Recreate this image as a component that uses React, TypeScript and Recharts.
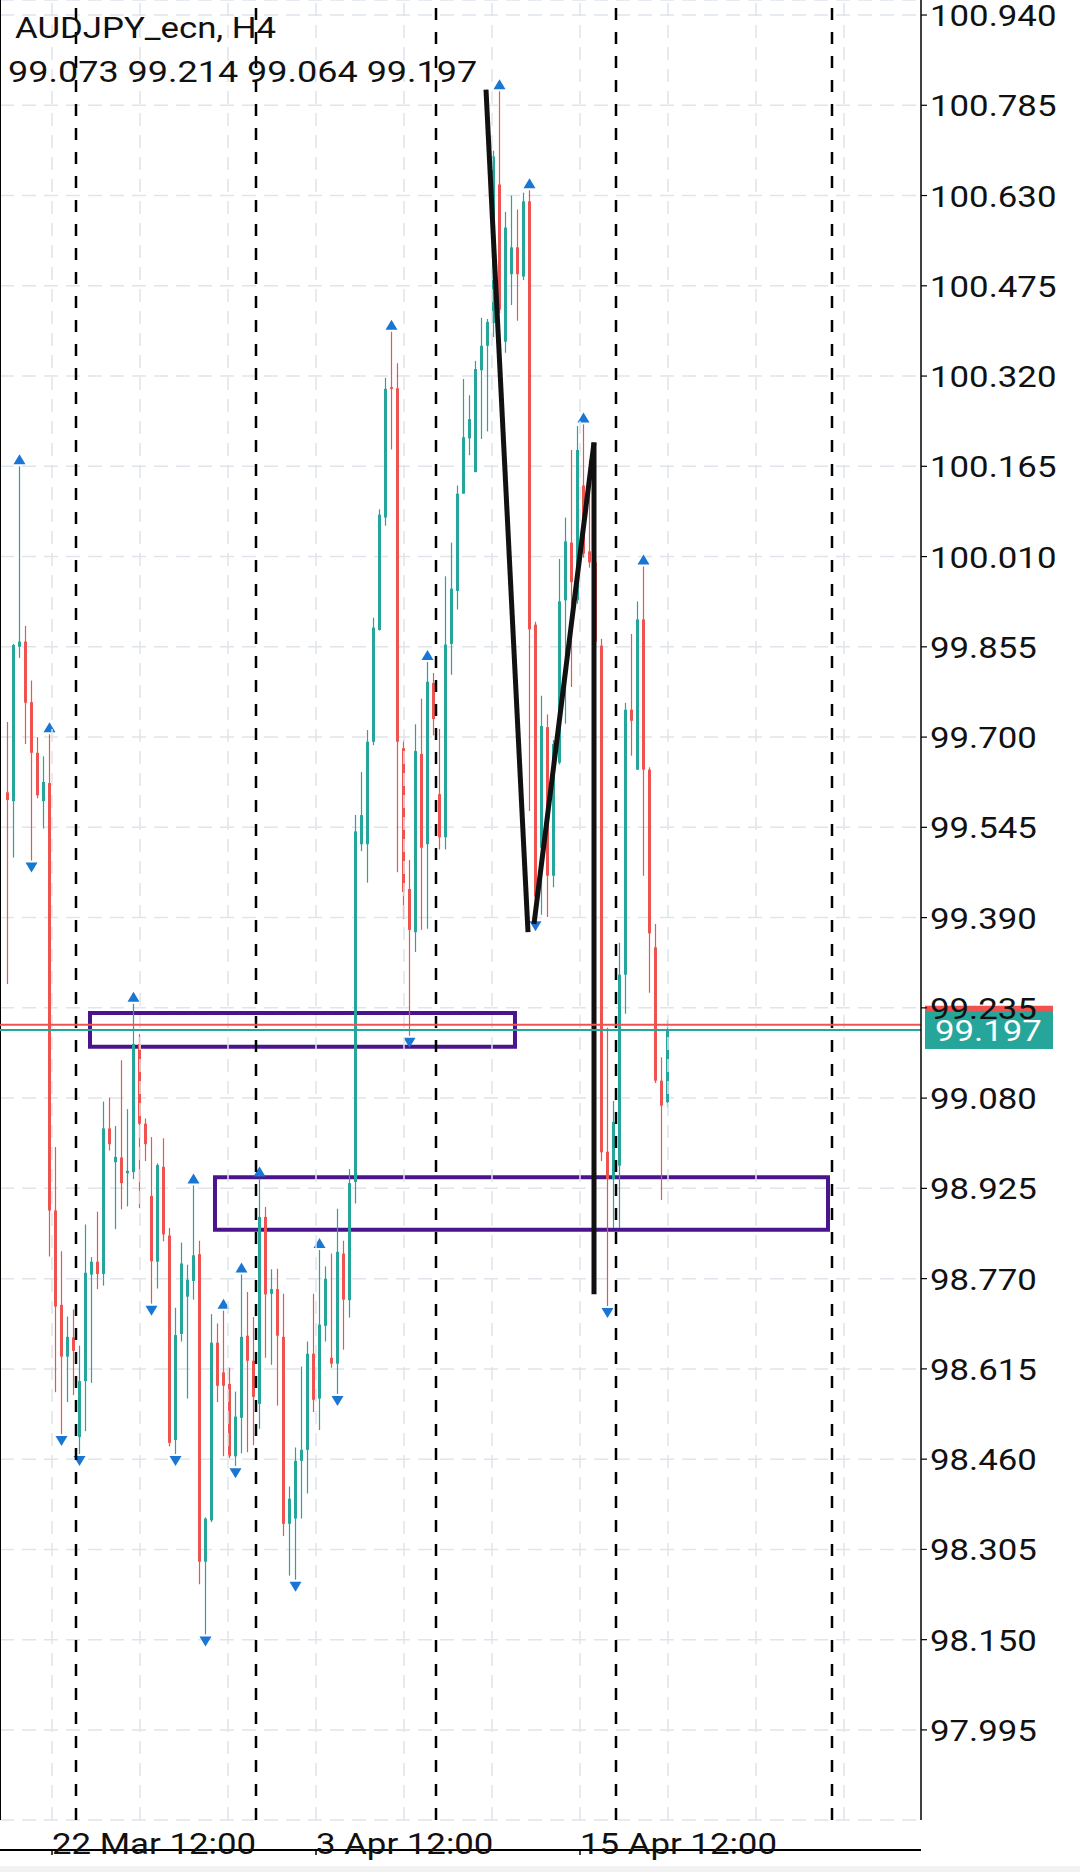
import React from 'react';
import {
  ComposedChart,
  Bar,
  XAxis,
  YAxis,
  CartesianGrid,
  ReferenceLine,
  ReferenceArea,
} from 'recharts';

// H4 candles (bar 0 = leftmost)
const opens = [
  99.605, 99.59, 99.855, 99.864, 99.76, 99.673, 99.59, 99.621, 98.887, 98.725,
  98.636, 98.669, 98.498, 98.594, 98.777, 98.799, 98.778, 99.028, 98.97, 98.978,
  98.951, 98.953, 99.173, 99.036, 98.912, 98.799, 98.962, 98.844, 98.493, 98.675,
  98.739, 98.766, 98.812, 98.284, 98.355, 98.66, 98.609, 98.589, 98.465, 98.531,
  98.672, 98.629, 98.555, 98.876, 98.744, 98.752, 98.67, 98.349, 98.358, 98.457,
  98.476, 98.641, 98.564, 98.689, 98.634, 98.624, 98.813, 98.733, 98.936, 99.516,
  99.516, 99.692, 99.884, 100.077, 100.301, 100.299, 99.681, 99.439, 99.365, 99.671,
  99.516, 99.793, 99.602, 99.528, 99.86, 99.951, 100.118, 100.213, 100.155, 100.33,
  100.372, 100.411, 100.649, 100.379, 100.495, 100.541, 100.491, 100.62, 99.893, 99.51,
  99.717, 99.462, 99.656, 99.935, 100.034, 99.935, 100.132, 100.019, 100.0, 99.857,
  98.988, 98.941, 98.964, 99.292, 99.747, 99.644, 99.902, 99.644, 99.339, 99.11,
  99.073,
];
const highs = [
  99.726, 99.86, 100.165, 99.891, 99.797, 99.7, 99.667, 99.705, 98.996, 98.817,
  98.705, 98.717, 98.655, 98.863, 98.807, 98.885, 99.074, 99.081, 99.032, 99.145,
  99.061, 99.242, 99.19, 99.045, 99.013, 98.968, 99.011, 98.857, 98.72, 98.832,
  98.794, 98.93, 98.835, 98.36, 98.709, 98.693, 98.715, 98.617, 98.576, 98.777,
  98.747, 98.704, 98.942, 98.893, 98.786, 98.787, 98.744, 98.413, 98.48, 98.619,
  98.662, 98.744, 98.819, 98.791, 98.813, 98.89, 98.835, 98.958, 99.566, 99.64,
  99.712, 99.905, 100.091, 100.317, 100.396, 100.342, 99.695, 99.489, 99.722, 99.766,
  99.829, 99.81, 99.714, 99.976, 100.034, 100.132, 100.315, 100.287, 100.346, 100.42,
  100.418, 100.707, 100.809, 100.602, 100.63, 100.606, 100.635, 100.639, 99.898, 99.771,
  99.739, 99.695, 100.006, 100.077, 100.193, 100.234, 100.237, 100.175, 100.008, 99.869,
  99.201, 99.075, 99.347, 99.759, 99.877, 99.933, 99.993, 99.648, 99.379, 99.15,
  99.214,
];
const lows = [
  99.276, 99.493, 99.836, 99.688, 99.488, 99.595, 99.543, 98.808, 98.575, 98.503,
  98.558, 98.57, 98.469, 98.508, 98.591, 98.752, 98.758, 98.99, 98.855, 98.889,
  98.894, 98.941, 98.891, 98.972, 98.727, 98.753, 98.834, 98.482, 98.469, 98.662,
  98.564, 98.734, 98.245, 98.159, 98.352, 98.558, 98.465, 98.462, 98.448, 98.47,
  98.472, 98.484, 98.512, 98.634, 98.622, 98.552, 98.328, 98.26, 98.253, 98.358,
  98.401, 98.541, 98.51, 98.662, 98.617, 98.572, 98.648, 98.703, 98.899, 99.504,
  99.45, 99.686, 99.883, 100.063, 100.194, 99.468, 99.388, 99.187, 99.331, 99.369,
  99.371, 99.703, 99.507, 99.507, 99.807, 99.919, 100.118, 100.184, 100.155, 100.212,
  100.225, 100.387, 100.428, 100.36, 100.442, 100.415, 100.485, 99.573, 99.387, 99.395,
  99.391, 99.442, 99.653, 99.723, 99.786, 99.929, 100.008, 99.991, 99.855, 98.972,
  98.723, 98.857, 98.857, 99.225, 99.668, 99.644, 99.462, 99.261, 99.106, 98.905,
  99.064,
];
const closes = [
  99.592, 99.858, 99.864, 99.759, 99.673, 99.6, 99.623, 98.887, 98.722, 98.636,
  98.67, 98.646, 98.594, 98.78, 98.799, 98.778, 99.028, 99.001, 98.979, 98.934,
  98.955, 99.173, 99.036, 99.001, 98.8, 98.965, 98.846, 98.488, 98.673, 98.796,
  98.768, 98.81, 98.284, 98.358, 98.66, 98.586, 98.586, 98.465, 98.533, 98.67,
  98.629, 98.567, 98.876, 98.743, 98.752, 98.672, 98.349, 98.392, 98.457, 98.476,
  98.641, 98.562, 98.691, 98.77, 98.624, 98.816, 98.734, 98.934, 99.538, 99.566,
  99.692, 99.888, 100.082, 100.298, 100.298, 99.692, 99.434, 99.369, 99.676, 99.51,
  99.795, 99.731, 99.528, 99.859, 99.955, 100.118, 100.215, 100.246, 100.332, 100.372,
  100.413, 100.697, 100.434, 100.575, 100.541, 100.495, 100.62, 99.885, 99.426, 99.719,
  99.462, 99.688, 99.933, 100.036, 99.966, 100.193, 100.015, 100.0, 99.864, 98.987,
  98.941, 99.039, 99.292, 99.747, 99.728, 99.902, 99.644, 99.363, 99.11, 99.067,
  99.197,
];

// Bill Williams fractals (bar indices)
const fractalUp = [2, 7, 21, 31, 36, 39, 42, 52, 64, 70, 82, 87, 96, 106];
const fractalDown = [4, 9, 12, 24, 28, 33, 38, 48, 55, 67, 88, 100];

const priceTicks = [
  100.94, 100.785, 100.63, 100.475, 100.32, 100.165, 100.01, 99.855, 99.7, 99.545,
  99.39, 99.235, 99.08, 98.925, 98.77, 98.615, 98.46, 98.305, 98.15, 97.995,
];
const timeTicks = [7.667, 51.667, 95.667];
const timeLabels = ['22 Mar 12:00', '3 Apr 12:00', '15 Apr 12:00'];
const gridBars = [7.667, 22.333, 37, 51.667, 66.333, 81, 95.667, 110.333, 125, 139.667];
const weekSeparators = [11.667, 41.667, 71.667, 101.667, 137.667];

const bid = 99.197;
const ask = 99.206;

const zones = [
  { x1: 14, x2: 84.83, y1: 99.168, y2: 99.226 },
  { x1: 34.83, x2: 137, y1: 98.854, y2: 98.944 },
];
const trendLines = [
  [{ x: 80, y: 100.812 }, { x: 87, y: 99.365 }],
  [{ x: 88, y: 99.379 }, { x: 98, y: 100.206 }],
  [{ x: 98, y: 100.206 }, { x: 98, y: 98.743 }],
];

const BULL = '#26a69a';
const BEAR = '#ef5350';
const FRACTAL = '#1976d2';
const ZONE = '#4a148c';
const GRID = '#dfe5ea';
const FONT = 'Roboto, sans-serif';
const STRETCH = 1.16;

const rows = opens.map((o, i) => ({
  i,
  o,
  h: highs[i],
  l: lows[i],
  c: closes[i],
  range: [lows[i], highs[i]],
  up: fractalUp.includes(i),
  down: fractalDown.includes(i),
}));

function Candle(props: any) {
  const { x, y, width, height, payload } = props;
  if (!payload) return null;
  const top = Math.min(y, y + height);
  const hgt = Math.abs(height);
  const { o, h, l, c } = payload;
  const span = h - l || 1;
  const py = (v: number) => top + ((h - v) / span) * hgt;
  const color = c >= o ? BULL : BEAR;
  const cx = Math.round(x + width / 2);
  const b1 = py(Math.max(o, c));
  const b2 = py(Math.min(o, c));
  return (
    <g>
      <line x1={cx + 0.5} x2={cx + 0.5} y1={top} y2={top + hgt} stroke={color} strokeWidth={1.2} />
      <rect x={cx - 1} y={b1} width={3} height={Math.max(1.5, b2 - b1)} fill={color} />
      {payload.up && (
        <path d={`M${cx - 5.5},${top - 2} L${cx + 6.5},${top - 2} L${cx + 0.5},${top - 12} Z`} fill={FRACTAL} />
      )}
      {payload.down && (
        <path
          d={`M${cx - 5.5},${top + hgt + 2} L${cx + 6.5},${top + hgt + 2} L${cx + 0.5},${top + hgt + 12} Z`}
          fill={FRACTAL}
        />
      )}
    </g>
  );
}

function PriceTick({ x, y, payload }: any) {
  return (
    <text
      transform={`translate(${x},${y + 11}) scale(${STRETCH},1)`}
      fontFamily={FONT}
      fontSize={30}
      fill="#111"
    >
      {Number(payload.value).toFixed(3)}
    </text>
  );
}

function TimeTick({ x, payload }: any) {
  const idx = timeTicks.indexOf(payload.value);
  // baseline sits 34px under the x axis line
  return (
    <text
      transform={`translate(${x},${1854}) scale(${STRETCH},1)`}
      fontFamily={FONT}
      fontSize={30}
      fill="#111"
    >
      {timeLabels[idx]}
    </text>
  );
}

function PriceTag({ viewBox, text, color }: any) {
  if (!viewBox) return null;
  const left = viewBox.x + viewBox.width + 4;
  const cy = viewBox.y;
  return (
    <g>
      <rect x={left} y={cy - 19} width={128} height={38} fill={color} />
      <text
        transform={`translate(${left + 10},${cy + 11}) scale(${STRETCH},1)`}
        fontFamily={FONT}
        fontSize={30}
        fill="#fff"
      >
        {text}
      </text>
    </g>
  );
}

export default function App() {
  return (
    <div
      style={{
        position: 'absolute',
        left: 0,
        top: 0,
        width: 1080,
        height: 1872,
        background: '#fff',
        overflow: 'hidden',
      }}
    >
      <ComposedChart
        width={1080}
        height={1872}
        data={rows}
        margin={{ top: 0, right: 0, bottom: 0, left: 0 }}
      >
        <CartesianGrid
          xAxisId="n"
          vertical={false}
          stroke={GRID}
          strokeWidth={1.5}
          strokeDasharray="14 8"
        />
        <XAxis xAxisId="c" dataKey="i" type="category" hide padding={{ left: 3, right: 252 }} />
        <XAxis
          xAxisId="n"
          dataKey="i"
          type="number"
          domain={[-1, 152.5]}
          allowDataOverflow
          ticks={timeTicks}
          interval={0}
          height={52}
          tickSize={5}
          tickMargin={2}
          axisLine={{ stroke: '#000', strokeWidth: 2 }}
          tickLine={{ stroke: '#000', strokeWidth: 1.5 }}
          tick={<TimeTick />}
        />
        <YAxis
          orientation="right"
          width={159}
          domain={[97.8403, 100.9658]}
          allowDataOverflow
          ticks={priceTicks}
          interval={0}
          tickSize={6}
          tickMargin={3}
          axisLine={{ stroke: '#000', strokeWidth: 1.5 }}
          tickLine={{ stroke: '#000', strokeWidth: 1.2 }}
          tick={<PriceTick />}
        />

        {gridBars.map((v) => (
          <ReferenceLine
            key={`g${v}`}
            xAxisId="n"
            x={v}
            stroke={GRID}
            strokeWidth={1.5}
            strokeDasharray="13 9"
          />
        ))}
        <ReferenceLine xAxisId="n" x={-1} stroke="#000" strokeWidth={2} />

        <Bar
          xAxisId="c"
          dataKey="range"
          barSize={3}
          shape={(p: any) => <Candle {...p} />}
          isAnimationActive={false}
        />

        {weekSeparators.map((v) => (
          <ReferenceLine
            key={`s${v}`}
            xAxisId="n"
            x={v}
            stroke="#000"
            strokeWidth={2.5}
            strokeDasharray="12 12"
          />
        ))}

        {zones.map((z, k) => (
          <ReferenceArea
            key={`z${k}`}
            xAxisId="n"
            x1={z.x1}
            x2={z.x2}
            y1={z.y1}
            y2={z.y2}
            fill="none"
            fillOpacity={0}
            stroke={ZONE}
            strokeWidth={4}
          />
        ))}

        {trendLines.map((seg, k) => (
          <ReferenceLine
            key={`t${k}`}
            xAxisId="n"
            segment={seg}
            stroke="#111"
            strokeWidth={5}
          />
        ))}

        <ReferenceLine
          xAxisId="n"
          y={ask}
          stroke={BEAR}
          strokeWidth={2}
          label={<PriceTag text={ask.toFixed(3)} color={BEAR} />}
        />
        <ReferenceLine
          xAxisId="n"
          y={bid}
          stroke={BULL}
          strokeWidth={2}
          label={<PriceTag text={bid.toFixed(3)} color={BULL} />}
        />
      </ComposedChart>

      <svg
        width={560}
        height={100}
        style={{ position: 'absolute', left: 0, top: 0, pointerEvents: 'none' }}
      >
        <text transform={`translate(15,38) scale(${STRETCH},1)`} fontFamily={FONT} fontSize={30} fill="#111">
          AUDJPY_ecn, H4
        </text>
        <text transform={`translate(8,82) scale(1.2,1)`} fontFamily={FONT} fontSize={30} fill="#111">
          {`${opens[110].toFixed(3)} ${highs[110].toFixed(3)} ${lows[110].toFixed(3)} ${closes[110].toFixed(3)}`}
        </text>
      </svg>
      <div
        style={{ position: 'absolute', left: 0, top: 1866, width: 1080, height: 6, background: '#f2f2f2' }}
      />
    </div>
  );
}
